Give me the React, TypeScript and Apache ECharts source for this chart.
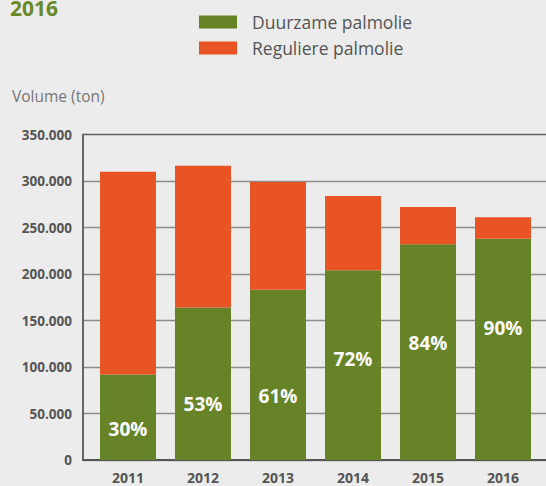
import React, { useEffect, useRef } from "react";
import * as echarts from "echarts";

const years = ["2011", "2012", "2013", "2014", "2015", "2016"];
const duurzaam = [92000, 164000, 183000, 204000, 232000, 238000];
const totaal = [310000, 316500, 299000, 284000, 272000, 261000];
const percentages = ["30%", "53%", "61%", "72%", "84%", "90%"];
const yTicks = [0, 50000, 100000, 150000, 200000, 250000, 300000, 350000];
const seriesNames = ["Duurzame palmolie", "Reguliere palmolie"];
const labelOffsets = [12, 20, 21, -6, -9, -21];

const GREEN = "#668427";
const ORANGE = "#e85423";
const FONT = "'Open Sans', 'Noto Sans', sans-serif";

function fmt(v: number) {
  if (v === 0) return "0";
  const s = String(v);
  return s.replace(/\B(?=(\d{3})+(?!\d))/g, ".");
}

export default function App() {
  const ref = useRef<HTMLDivElement>(null);
  useEffect(() => {
    if (!ref.current) return;
    const chart = echarts.init(ref.current, null, { renderer: "svg" });
    const regulier = totaal.map((t, i) => t - duurzaam[i]);
    const yMax = yTicks[yTicks.length - 1];
    const gridColors = yTicks.map((_, i) => (i === yTicks.length - 1 ? "#5e5e5e" : "#8c8c8c"));
    chart.setOption({
      animation: false,
      backgroundColor: "#ebeceb",
      textStyle: { fontFamily: FONT },
      graphic: [
        {
          type: "text",
          left: 10,
          top: -3,
          style: { text: "2016", fill: "#6a8a2a", font: `bold 21px ${FONT}` },
        },
        {
          type: "text",
          left: 12,
          top: 88,
          style: { text: "Volume (ton)", fill: "#777777", font: `15.5px ${FONT}` },
        },
      ],
      legend: {
        orient: "vertical",
        left: 199,
        top: 13,
        padding: 0,
        itemWidth: 38,
        itemHeight: 13,
        itemGap: 8,
        icon: "rect",
        data: seriesNames,
        textStyle: {
          fontFamily: FONT,
          fontSize: 17.5,
          color: "#555555",
          padding: [0, 0, 0, 10],
        },
      },
      grid: [
        { left: 83, right: 0, top: 134.5, bottom: 26 },
        { left: 90.5, right: 5.5, top: 134.5, bottom: 26 },
      ],
      xAxis: [
        {
          type: "category",
          gridIndex: 0,
          data: [""],
          axisLine: { show: true, lineStyle: { color: "#555555", width: 2 } },
          axisTick: { show: false },
          axisLabel: { show: false },
        },
        {
          type: "category",
          gridIndex: 1,
          data: years,
          axisLine: { show: false },
          axisTick: { show: false },
          axisLabel: {
            margin: 10,
            color: "#555555",
            fontWeight: "bold",
            fontSize: 14,
            fontFamily: FONT,
          },
        },
      ],
      yAxis: [
        {
          type: "value",
          gridIndex: 0,
          min: 0,
          max: yMax,
          interval: 50000,
          axisLine: { show: true, lineStyle: { color: "#666666", width: 2 } },
          axisTick: { show: false },
          splitLine: { show: true, lineStyle: { color: gridColors, width: 1.3 } },
          axisLabel: {
            margin: 11,
            color: "#555555",
            fontWeight: "bold",
            fontSize: 13.5,
            fontFamily: FONT,
            formatter: (v: number) => fmt(v),
          },
        },
        {
          type: "value",
          gridIndex: 1,
          min: 0,
          max: yMax,
          interval: 50000,
          show: false,
        },
      ],
      series: [
        {
          name: seriesNames[0],
          type: "bar",
          stack: "t",
          xAxisIndex: 1,
          yAxisIndex: 1,
          barWidth: 56,
          itemStyle: { color: GREEN },
          data: duurzaam.map((v, i) => ({
            value: v,
            label: {
              show: true,
              position: "inside",
              offset: [0, labelOffsets[i]],
              formatter: percentages[i],
              color: "#ffffff",
              fontWeight: "bold",
              fontSize: 19,
              fontFamily: FONT,
            },
          })),
        },
        {
          name: seriesNames[1],
          type: "bar",
          stack: "t",
          xAxisIndex: 1,
          yAxisIndex: 1,
          barWidth: 56,
          itemStyle: { color: ORANGE },
          data: regulier,
        },
      ],
    });
    return () => chart.dispose();
  }, []);
  return <div ref={ref} style={{ width: 546, height: 486, position: "absolute", left: 0, top: 0 }} />;
}
